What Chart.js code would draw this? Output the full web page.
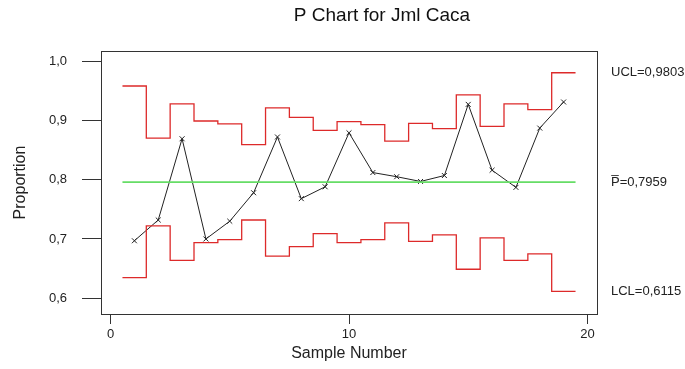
<!DOCTYPE html>
<html>
<head>
<meta charset="utf-8">
<script src="https://cdn.jsdelivr.net/npm/chart.js@4"></script>
<style>
  body { margin: 0; background: #fff; }
</style>
</head>
<body>
<canvas id="pchart" width="685" height="369"></canvas>
<script>
// sample numbers 1..19
const samples = [1, 2, 3, 4, 5, 6, 7, 8, 9, 10, 11, 12, 13, 14, 15, 16, 17, 18, 19];
const proportion = [0.697, 0.732, 0.869, 0.700, 0.730, 0.778, 0.872, 0.768, 0.788, 0.879,
                    0.812, 0.805, 0.797, 0.807, 0.927, 0.816, 0.787, 0.887, 0.931];
const ucl = [0.958, 0.870, 0.928, 0.899, 0.894, 0.859, 0.921, 0.905, 0.883, 0.898,
             0.893, 0.865, 0.895, 0.886, 0.943, 0.890, 0.928, 0.918, 0.9803];
const lcl = [0.635, 0.722, 0.664, 0.694, 0.699, 0.732, 0.671, 0.687, 0.709, 0.694,
             0.699, 0.727, 0.696, 0.707, 0.649, 0.702, 0.664, 0.675, 0.6115];
const pBar = 0.7959;
const yTicks = [0.6, 0.7, 0.8, 0.9, 1.0];
const xTicks = [0, 10, 20];
const limitValues = [0.9803, 0.7959, 0.6115];
const limitLabels = ['UCL=0,9803', 'P\u0305=0,7959', 'LCL=0,6115'];

const font = '"Liberation Sans", Arial, sans-serif';

// stepped limit lines, extended half a sample on each side
function stepData(vals) {
  const pts = [{x: samples[0] - 0.5, y: vals[0]}];
  samples.forEach((s, i) => pts.push({x: s, y: vals[i]}));
  pts.push({x: samples[samples.length - 1] + 0.5, y: vals[vals.length - 1]});
  return pts;
}

const framePlugin = {
  id: 'frame',
  afterDraw(chart) {
    const {ctx, chartArea: a} = chart;
    ctx.save();
    ctx.strokeStyle = '#333';
    ctx.lineWidth = 1;
    ctx.strokeRect(a.left + 0.5, a.top + 0.5, a.right - a.left, a.bottom - a.top);
    // title
    ctx.fillStyle = '#111';
    ctx.font = '19px ' + font;
    ctx.textAlign = 'center';
    ctx.textBaseline = 'alphabetic';
    ctx.fillText('P Chart for Jml Caca', 382, 21);
    ctx.restore();
  }
};

new Chart(document.getElementById('pchart'), {
  type: 'line',
  data: {
    datasets: [
      {
        label: 'UCL',
        data: stepData(ucl),
        stepped: 'middle',
        borderColor: '#dd2a2a',
        borderWidth: 1.3,
        pointRadius: 0
      },
      {
        label: 'LCL',
        data: stepData(lcl),
        stepped: 'middle',
        borderColor: '#dd2a2a',
        borderWidth: 1.3,
        pointRadius: 0
      },
      {
        label: 'P bar',
        data: [{x: samples[0] - 0.5, y: pBar}, {x: samples[samples.length - 1] + 0.5, y: pBar}],
        borderColor: '#66dd66',
        borderWidth: 1.6,
        pointRadius: 0
      },
      {
        label: 'Proportion',
        data: samples.map((s, i) => ({x: s, y: proportion[i]})),
        borderColor: '#222',
        borderWidth: 1,
        pointStyle: 'crossRot',
        pointRadius: 3.5,
        pointBorderColor: '#222',
        pointBorderWidth: 1
      }
    ]
  },
  options: {
    responsive: false,
    animation: false,
    layout: { padding: { top: 51, left: 0, right: 0, bottom: 0 } },
    plugins: { legend: { display: false }, tooltip: { enabled: false } },
    scales: {
      x: {
        type: 'linear',
        min: -0.4,
        max: 20.4,
        afterBuildTicks: s => { s.ticks = xTicks.map(v => ({value: v})); },
        afterFit: s => { s.height = 55; },
        grid: { drawOnChartArea: false, tickLength: 10, color: '#333' },
        border: { color: '#333' },
        ticks: { color: '#222', padding: 3, font: { family: font, size: 13 } },
        title: {
          display: true,
          text: 'Sample Number',
          color: '#222',
          font: { family: font, size: 16 },
          padding: { top: 0, bottom: 6 }
        }
      },
      y: {
        min: 0.5735,
        max: 1.017,
        afterBuildTicks: s => { s.ticks = yTicks.map(v => ({value: v})); },
        afterFit: s => { s.width = 101; },
        grid: { drawOnChartArea: false, tickLength: 19, color: '#333' },
        border: { color: '#333' },
        ticks: {
          color: '#222',
          padding: 15,
          font: { family: font, size: 13 },
          callback: v => v.toFixed(1).replace('.', ',')
        },
        title: {
          display: true,
          text: 'Proportion',
          color: '#222',
          font: { family: font, size: 16 },
          padding: { top: 11, bottom: 0 }
        }
      },
      yLimits: {
        position: 'right',
        min: 0.5735,
        max: 1.017,
        afterBuildTicks: s => { s.ticks = limitValues.map(v => ({value: v})); },
        afterFit: s => { s.width = 88; },
        grid: { display: false, drawTicks: false },
        border: { display: false },
        ticks: {
          color: '#222',
          padding: 14,
          font: { family: font, size: 13 },
          callback: (v, i) => limitLabels[i]
        }
      }
    }
  },
  plugins: [framePlugin]
});
</script>
</body>
</html>
